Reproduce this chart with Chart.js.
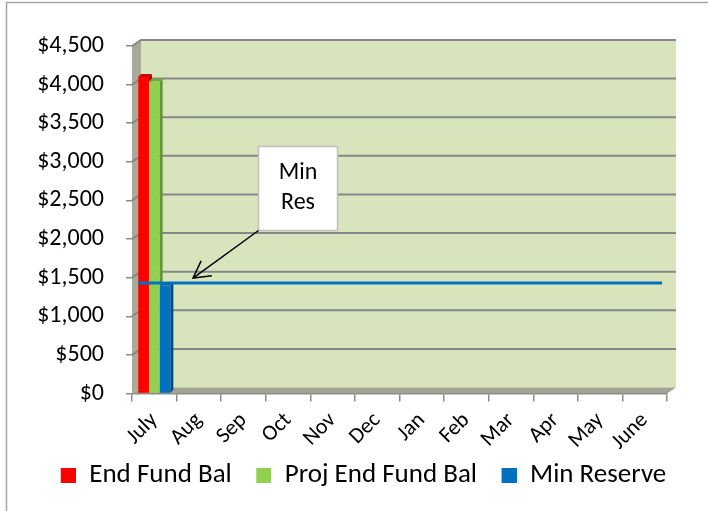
<!DOCTYPE html>
<html>
<head>
<meta charset="utf-8">
<script src="https://cdn.jsdelivr.net/npm/chart.js@4.4.1/dist/chart.umd.min.js"></script>
<style>
  html, body { margin: 0; padding: 0; background: #ffffff; }
  #wrap { width: 708px; height: 511px; position: relative; }
</style>
</head>
<body>
<div id="wrap"><canvas id="c" width="708" height="511"></canvas></div>
<script>
// ---- data ----
const months = ['July', 'Aug', 'Sep', 'Oct', 'Nov', 'Dec', 'Jan', 'Feb', 'Mar', 'Apr', 'May', 'June'];
const endFundBal     = [4100, null, null, null, null, null, null, null, null, null, null, null];
const projEndFundBal = [4040, null, null, null, null, null, null, null, null, null, null, null];
const minReserve     = [1400, null, null, null, null, null, null, null, null, null, null, null];
const minReserveLine = 1430;
const calloutLines   = ['Min', 'Res'];
const yMin = 0, yMax = 4500, yStep = 500;

const FONT = 'Carlito, Lato, sans-serif';
const DX = 9, DY = -6;   // 3D depth offset

function shade(hex, f) {
  const n = parseInt(hex.slice(1), 16);
  const r = Math.round(((n >> 16) & 255) * f), g = Math.round(((n >> 8) & 255) * f), b = Math.round((n & 255) * f);
  return `rgb(${r},${g},${b})`;
}

// legend swatch: a 15px square with some transparent lead-in space
function swatch(color) {
  const c = document.createElement('canvas');
  c.width = 27; c.height = 15;
  const g = c.getContext('2d');
  g.fillStyle = color;
  g.fillRect(12, 0, 15, 15);
  return c;
}

const excel3d = {
  id: 'excel3d',
  beforeDraw(chart) {
    const { ctx, chartArea: a, scales } = chart;
    const y = scales.y;
    ctx.save();
    ctx.fillStyle = '#ffffff';
    ctx.fillRect(0, 0, chart.width, chart.height);
    ctx.strokeStyle = '#a6a6a6';
    ctx.lineWidth = 1.5;
    ctx.beginPath();
    ctx.moveTo(6.5, chart.height + 2);
    ctx.lineTo(6.5, 2.5);
    ctx.lineTo(chart.width + 2, 2.5);
    ctx.stroke();
    // back wall
    ctx.fillStyle = '#d8e4bc';
    ctx.fillRect(a.left + DX, a.top + DY, a.right - a.left, a.bottom - a.top);
    // side wall
    ctx.fillStyle = '#a7ab98';
    ctx.beginPath();
    ctx.moveTo(a.left, a.bottom);
    ctx.lineTo(a.left, a.top);
    ctx.lineTo(a.left + DX, a.top + DY);
    ctx.lineTo(a.left + DX, a.bottom + DY);
    ctx.closePath();
    ctx.fill();
    // floor
    ctx.fillStyle = '#a2a594';
    ctx.beginPath();
    ctx.moveTo(a.left, a.bottom);
    ctx.lineTo(a.right, a.bottom);
    ctx.lineTo(a.right + DX, a.bottom + DY);
    ctx.lineTo(a.left + DX, a.bottom + DY);
    ctx.closePath();
    ctx.fill();
    // gridlines on back & side wall
    ctx.strokeStyle = '#878787';
    ctx.lineWidth = 2;
    y.ticks.forEach(t => {
      if (t.value === yMin) return;
      const py = y.getPixelForValue(t.value);
      ctx.beginPath();
      ctx.moveTo(a.left, py);
      ctx.lineTo(a.left + DX, py + DY);
      ctx.lineTo(a.right + DX, py + DY);
      ctx.stroke();
    });
    ctx.restore();
  },
  beforeDatasetsDraw(chart) {
    const { ctx } = chart;
    ctx.save();
    chart.data.datasets.forEach((ds, i) => {
      const meta = chart.getDatasetMeta(i);
      meta.data.forEach((el, j) => {
        if (ds.data[j] == null) return;
        const p = el.getProps(['x', 'y', 'base', 'width'], true);
        const l = p.x - p.width / 2, r = p.x + p.width / 2, d = 3;
        ctx.fillStyle = shade(ds.backgroundColor, 0.7);
        ctx.beginPath();
        ctx.moveTo(r, p.y); ctx.lineTo(r + d, p.y - d); ctx.lineTo(r + d, p.base - d); ctx.lineTo(r, p.base);
        ctx.closePath(); ctx.fill();
        ctx.fillStyle = shade(ds.backgroundColor, 0.8);
        ctx.beginPath();
        ctx.moveTo(l, p.y); ctx.lineTo(l + d, p.y - d); ctx.lineTo(r + d, p.y - d); ctx.lineTo(r, p.y);
        ctx.closePath(); ctx.fill();
      });
    });
    ctx.restore();
  },
  afterDatasetsDraw(chart) {
    const { ctx, chartArea: a, scales } = chart;
    const py = scales.y.getPixelForValue(minReserveLine);
    ctx.save();
    ctx.strokeStyle = '#0070c0';
    ctx.lineWidth = 3;
    ctx.beginPath();
    ctx.moveTo(a.left + 6, py);
    ctx.lineTo(a.right - 5, py);
    ctx.stroke();
    // callout box
    const bx = 258.5, by = 146.5, bw = 79, bh = 84;
    ctx.fillStyle = '#ffffff';
    ctx.fillRect(bx, by, bw, bh);
    ctx.strokeStyle = '#bfbfbf';
    ctx.lineWidth = 1.5;
    ctx.strokeRect(bx, by, bw, bh);
    ctx.fillStyle = '#000000';
    ctx.font = `24px ${FONT}`;
    ctx.textAlign = 'center';
    ctx.textBaseline = 'middle';
    ctx.fillText(calloutLines[0], bx + bw / 2, by + 26);
    ctx.fillText(calloutLines[1], bx + bw / 2, by + 56);
    // arrow
    const sx = bx, sy = by + bh, tx = 193, ty = py - 5;
    ctx.strokeStyle = '#000000';
    ctx.lineWidth = 1.5;
    ctx.beginPath();
    ctx.moveTo(sx, sy);
    ctx.lineTo(tx, ty);
    const ang = Math.atan2(sy - ty, sx - tx);
    const L = 19, spread = 0.5;
    ctx.moveTo(tx + L * Math.cos(ang - spread), ty + L * Math.sin(ang - spread));
    ctx.lineTo(tx, ty);
    ctx.lineTo(tx + L * Math.cos(ang + spread), ty + L * Math.sin(ang + spread));
    ctx.stroke();
    ctx.restore();
  }
};

const seriesColors = ['#ff0000', '#92d050', '#0070c0'];
const swatches = seriesColors.map(swatch);

new Chart(document.getElementById('c'), {
  type: 'bar',
  data: {
    labels: months,
    datasets: [
      { label: 'End Fund Bal', data: endFundBal, backgroundColor: seriesColors[0], borderWidth: 0 },
      { label: 'Proj End Fund Bal', data: projEndFundBal, backgroundColor: seriesColors[1], borderWidth: 0 },
      { label: 'Min Reserve', data: minReserve, backgroundColor: seriesColors[2], borderWidth: 0 }
    ]
  },
  options: {
    responsive: false,
    animation: false,
    devicePixelRatio: 1,
    layout: { padding: { top: 46, left: 7, right: 0, bottom: 12.5 } },
    datasets: { bar: { categoryPercentage: 0.72, barPercentage: 1.0 } },
    plugins: {
      legend: {
        position: 'bottom',
        labels: {
          font: { family: FONT, size: 27 },
          color: '#000000',
          usePointStyle: true,
          pointStyleWidth: 27,
          boxHeight: 15,
          padding: 12.5,
          generateLabels(chart) {
            return Chart.defaults.plugins.legend.labels.generateLabels(chart)
              .map((it, i) => Object.assign(it, { pointStyle: swatches[i], rotation: 0 }));
          }
        }
      },
      tooltip: { enabled: false }
    },
    scales: {
      x: {
        grid: { display: true, drawOnChartArea: false, drawTicks: true, tickLength: 8, color: '#8c8c8c', lineWidth: 1.5 },
        border: { display: true, color: '#8c8c8c', width: 1.5 },
        ticks: { font: { family: FONT, size: 22 }, color: '#000000', minRotation: 45, maxRotation: 45, padding: 6, autoSkip: false },
        afterFit(s) { s.height = 55.5; }
      },
      y: {
        min: yMin, max: yMax,
        grid: { display: true, drawOnChartArea: false, drawTicks: true, tickLength: 6, color: '#8c8c8c', lineWidth: 1.5 },
        border: { display: false },
        ticks: {
          stepSize: yStep,
          font: { family: FONT, size: 24 },
          color: '#000000',
          padding: 22,
          callback: v => '$' + Number(v).toLocaleString('en-US')
        },
        afterFit(s) { s.width = 125; }
      },
      spacer: {
        type: 'linear',
        position: 'right',
        display: true,
        grid: { display: false },
        border: { display: false },
        ticks: { display: false },
        afterFit(s) { s.width = 41; }
      }
    }
  },
  plugins: [excel3d]
});
</script>
</body>
</html>
